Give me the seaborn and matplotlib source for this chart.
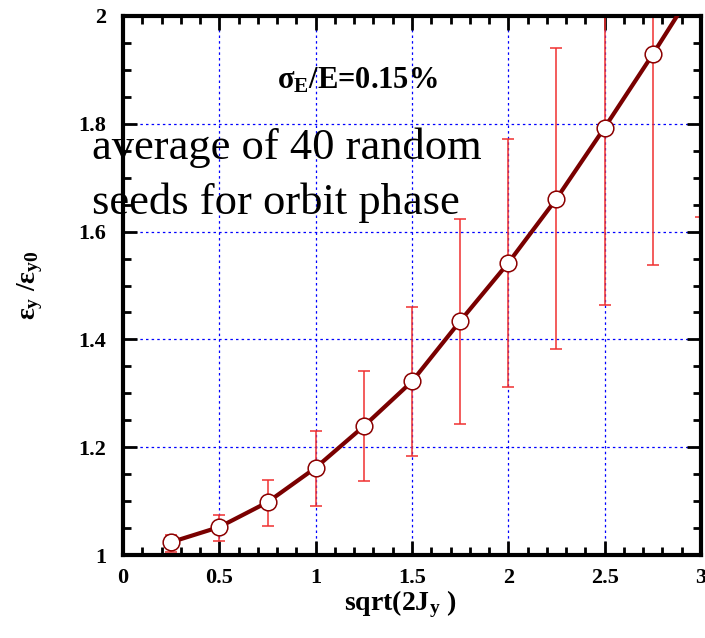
import numpy as np
import matplotlib
matplotlib.use("Agg")
import matplotlib.pyplot as plt
import seaborn as sns
from matplotlib.ticker import MultipleLocator

# -------------------------------------------------------
# Data
# -------------------------------------------------------

amp = [0.25, 0.5, 0.75, 1.0, 1.25, 1.5, 1.75, 2.0, 2.25, 2.5, 2.75, 3.0]
emit_ratio = [1.024, 1.052, 1.098, 1.162, 1.239, 1.322, 1.434, 1.542,
              1.661, 1.793, 1.929, 2.07]
err_low = [1.006, 1.027, 1.054, 1.091, 1.137, 1.183, 1.244, 1.312,
           1.382, 1.463, 1.538, 1.627]
err_high = [1.038, 1.075, 1.140, 1.231, 1.341, 1.461, 1.623, 1.772,
            1.940, 2.12, 2.32, 2.51]

x_ticks = [0, 0.5, 1, 1.5, 2, 2.5, 3]
x_tick_labels = ["0", "0.5", "1", "1.5", "2", "2.5", "3"]
y_ticks = [1, 1.2, 1.4, 1.6, 1.8, 2]
y_tick_labels = ["1", "1.2", "1.4", "1.6", "1.8", "2"]

# -------------------------------------------------------
# Style
# -------------------------------------------------------

sns.set_style("ticks")
plt.rcParams["font.family"] = ["Liberation Serif", "DejaVu Serif"]
plt.rcParams["font.weight"] = "bold"
plt.rcParams["text.color"] = "black"
plt.rcParams["axes.labelcolor"] = "black"
plt.rcParams["xtick.color"] = "black"
plt.rcParams["ytick.color"] = "black"
plt.rcParams["mathtext.fontset"] = "custom"
plt.rcParams["mathtext.rm"] = "Liberation Serif:bold"
plt.rcParams["mathtext.it"] = "Liberation Serif:bold"
plt.rcParams["mathtext.bf"] = "Liberation Serif:bold"

fig = plt.figure(figsize=(7.05, 6.38), dpi=100)
ax = fig.add_axes([0.1745, 0.130, 0.8198, 0.845])

# grid
for gx in x_ticks[1:-1]:
    ax.axvline(gx, color="blue", lw=0.9, ls=(0, (2, 2.5)), zorder=0)
for gy in y_ticks[1:-1]:
    ax.axhline(gy, color="blue", lw=0.9, ls=(0, (2, 2.5)), zorder=0)

# error bars
y_arr = np.array(emit_ratio)
yerr = [y_arr - np.array(err_low), np.array(err_high) - y_arr]
ax.errorbar(amp, emit_ratio, yerr=yerr, fmt="none", ecolor="#f03030",
            elinewidth=1.1, capsize=4.5, capthick=1.1, zorder=2)

# curve + markers
sns.lineplot(x=amp, y=emit_ratio, ax=ax, color="#7a0000", lw=3,
             marker="o", markersize=12, markerfacecolor="white",
             markeredgecolor="#8b0000", markeredgewidth=1.1, zorder=3)

ax.set_xlim(0, 3)
ax.set_ylim(1, 2)

ax.set_xticks(x_ticks)
ax.set_xticklabels(x_tick_labels)
ax.set_yticks(y_ticks)
ax.set_yticklabels(y_tick_labels)
ax.xaxis.set_minor_locator(MultipleLocator(0.1))
ax.yaxis.set_minor_locator(MultipleLocator(0.05))

ax.tick_params(which="both", direction="in", top=True, right=True,
               color="black", labelcolor="black", width=2)
ax.tick_params(which="major", length=10, labelsize=16)
ax.tick_params(axis="x", which="major", pad=9)
ax.tick_params(axis="y", which="major", pad=12)
ax.tick_params(which="minor", length=6)
for lab in ax.get_xticklabels() + ax.get_yticklabels():
    lab.set_fontweight("bold")

for side in ["left", "right", "top", "bottom"]:
    ax.spines[side].set_linewidth(3)
    ax.spines[side].set_color("black")

ax.set_xlabel(r"sqrt(2J$_{y}$ )", fontsize=20, fontweight="bold")
ax.xaxis.set_label_coords(0.48, -0.062, transform=ax.transAxes)
ax.xaxis.label.set_va("top")
ax.set_ylabel(r"$ε_{y}$ /$ε_{y0}$", fontsize=20, fontweight="bold")
ax.yaxis.set_label_coords(-0.135, 0.5, transform=ax.transAxes)

# annotations
ax.text(0.80, 1.866, r"$σ_{E}$/E=0.15%", fontsize=22, fontweight="bold",
        va="baseline", ha="left", color="black")
ax.text(-0.16, 1.735, "average of 40 random", fontsize=32,
        fontweight="normal", va="baseline", ha="left", clip_on=False,
        color="black")
ax.text(-0.16, 1.633, "seeds for orbit phase", fontsize=32,
        fontweight="normal", va="baseline", ha="left", clip_on=False,
        color="black")

plt.savefig("out.png", dpi=100)
plt.close()
